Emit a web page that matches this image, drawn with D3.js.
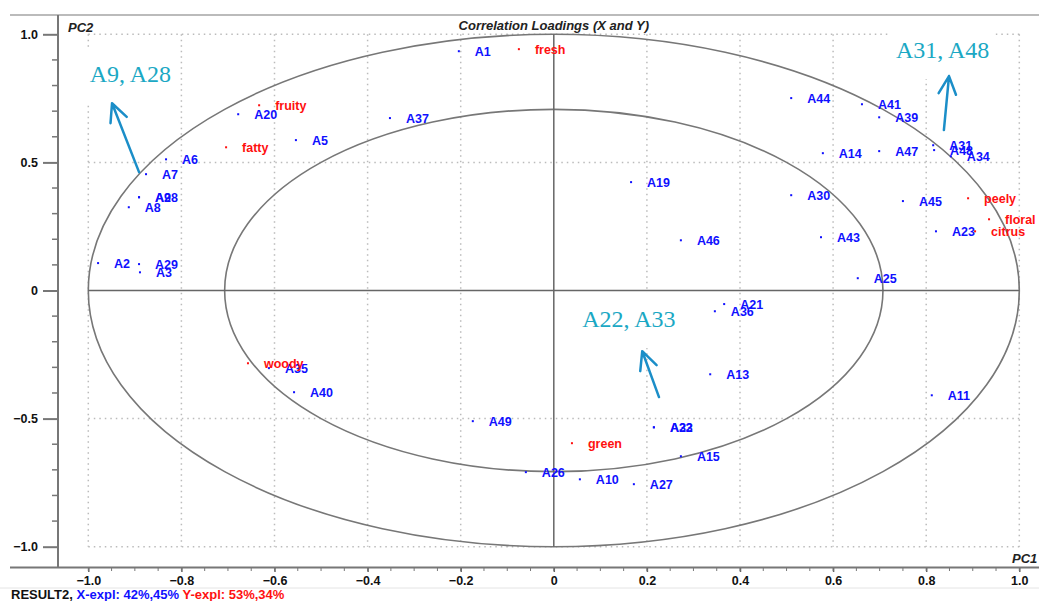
<!DOCTYPE html>
<html>
<head>
<meta charset="utf-8">
<script src="https://cdn.jsdelivr.net/npm/d3@7"></script>
<style>
  body { margin: 0; background: #fff; }
  svg { display: block; font-family: "Liberation Sans", Arial, sans-serif; }
</style>
</head>
<body>
<svg id="chart" width="1039" height="601"></svg>
<script>
// X loadings (blue) and Y loadings (red)
const xNames = ['A1', 'A20', 'A5', 'A6', 'A7', 'A9', 'A28', 'A8', 'A2', 'A29', 'A3', 'A37', 'A19',
  'A44', 'A41', 'A39', 'A14', 'A47', 'A31', 'A48', 'A34', 'A30', 'A45', 'A23', 'A46', 'A43',
  'A25', 'A21', 'A36', 'A13', 'A22', 'A33', 'A15', 'A11', 'A35', 'A40', 'A49', 'A26', 'A10', 'A27']
const xPC1 = [-0.204, -0.678, -0.554, -0.833, -0.876, -0.891, -0.891, -0.913, -0.979, -0.891, -0.889, -0.352, 0.166,
  0.510, 0.662, 0.699, 0.578, 0.699, 0.815, 0.817, 0.853, 0.510, 0.750, 0.821, 0.273, 0.574,
  0.653, 0.366, 0.346, 0.336, 0.215, 0.215, 0.273, 0.812, -0.612, -0.558, -0.174, -0.060, 0.056, 0.172]
const xPC2 = [0.934, 0.688, 0.587, 0.512, 0.454, 0.364, 0.364, 0.325, 0.107, 0.103, 0.071, 0.673, 0.423,
  0.751, 0.727, 0.676, 0.536, 0.544, 0.567, 0.548, 0.524, 0.372, 0.349, 0.231, 0.196, 0.208,
  0.048, -0.053, -0.081, -0.327, -0.534, -0.534, -0.647, -0.409, -0.303, -0.397, -0.510, -0.709, -0.737, -0.756]

const yNames = ['fresh', 'fruity', 'fatty', 'peely', 'floral', 'citrus', 'woody', 'green']
const yPC1 = [-0.075, -0.633, -0.704, 0.890, 0.935, 0.905, -0.657, 0.039]
const yPC2 = [0.942, 0.723, 0.559, 0.360, 0.278, 0.231, -0.284, -0.596]

const xTicks = [-1.0, -0.8, -0.6, -0.4, -0.2, 0, 0.2, 0.4, 0.6, 0.8, 1.0]
const yTicks = [1.0, 0.5, 0, -0.5, -1.0]

const notes = ['A9, A28', 'A31, A48', 'A22, A33']
const notePC1 = [-0.997, 0.735, 0.061]
const notePC2 = [0.813, 0.907, -0.143]
const arrowFrom = [[-0.891, 0.462], [0.838, 0.626], [0.226, -0.416]]
const arrowTo = [[-0.949, 0.731], [0.849, 0.837], [0.190, -0.237]]

const svg = d3.select('#chart')
const x = d3.scaleLinear().domain([-1, 1]).range([88.3, 1019.3])
const y = d3.scaleLinear().domain([-1, 1]).range([546.7, 34.3])
const fmt = d => d === 0 ? '0' : d3.format('.1f')(d)

// frame lines
svg.append('line').attr('x1', 10).attr('x2', 1039).attr('y1', 15).attr('y2', 15)
  .attr('stroke', '#bbb').attr('stroke-width', 2)
svg.append('line').attr('x1', 10).attr('x2', 1039).attr('y1', 567.5).attr('y2', 567.5)
  .attr('stroke', '#777').attr('stroke-width', 2)
svg.append('line').attr('x1', 58).attr('x2', 58).attr('y1', 15).attr('y2', 568)
  .attr('stroke', '#777').attr('stroke-width', 2)
svg.append('line').attr('x1', 0).attr('x2', 1039).attr('y1', 588).attr('y2', 588)
  .attr('stroke', '#e4e4e4').attr('stroke-width', 1)

// left axis
const yAxis = g => g
  .attr('transform', 'translate(58,0)')
  .call(d3.axisLeft(y).tickValues(yTicks).tickSize(15).tickPadding(5).tickFormat(fmt))
  .call(g => g.select('.domain').remove())
  .call(g => g.selectAll('.tick line').attr('stroke', '#777').attr('stroke-width', 2))
  .call(g => g.selectAll('.tick text').attr('font-size', 12.5).attr('font-weight', 'bold').attr('fill', '#111')
    .attr('font-family', '"Liberation Sans", Arial, sans-serif'))
svg.append('g').call(yAxis)
svg.append('g').selectAll('line')
  .data(d3.range(-10, 11).map(i => i / 10).filter(v => !yTicks.some(t => Math.abs(t - v) < 1e-6)))
  .join('line')
  .attr('x1', 52).attr('x2', 58)
  .attr('y1', d => y(d)).attr('y2', d => y(d))
  .attr('stroke', '#777').attr('stroke-width', 1.5)

// bottom axis
const xAxis = g => g
  .attr('transform', 'translate(0,568)')
  .call(d3.axisBottom(x).tickValues(xTicks).tickSize(4).tickPadding(4).tickFormat(fmt))
  .call(g => g.select('.domain').remove())
  .call(g => g.selectAll('.tick line').attr('stroke', '#666').attr('stroke-width', 1.5))
  .call(g => g.selectAll('.tick text').attr('font-size', 12.5).attr('font-weight', 'bold').attr('fill', '#111')
    .attr('font-family', '"Liberation Sans", Arial, sans-serif'))
svg.append('g').call(xAxis)
svg.append('g').selectAll('line')
  .data(d3.range(-20, 21).map(i => i / 20))
  .join('line')
  .attr('x1', d => x(d)).attr('x2', d => x(d))
  .attr('y1', 568).attr('y2', 571)
  .attr('stroke', '#777').attr('stroke-width', 1)

// dotted grid
const grid = svg.append('g').attr('stroke', '#bbb').attr('stroke-width', 1.5).attr('stroke-dasharray', '1.5,4')
grid.selectAll('.gv').data(xTicks.filter(d => d !== 0)).join('line')
  .attr('x1', d => x(d)).attr('x2', d => x(d)).attr('y1', y(1)).attr('y2', y(-1))
grid.selectAll('.gh').data(yTicks.filter(d => d !== 0)).join('line')
  .attr('x1', x(-1)).attr('x2', x(1)).attr('y1', d => y(d)).attr('y2', d => y(d))

// annotation backgrounds (cover grid like the pasted labels)
const noteLayer = svg.append('g')
const noteBg = noteLayer.append('g')

// ellipses: r = 1 and r = sqrt(0.5)
const cx = x(0), cy = y(0), rx = x(1) - x(0), ry = y(0) - y(1)
const rings = svg.append('g').attr('fill', 'none').attr('stroke', '#777').attr('stroke-width', 1.6)
rings.selectAll('ellipse').data([1, Math.sqrt(0.5)]).join('ellipse')
  .attr('cx', cx).attr('cy', cy).attr('rx', d => rx * d).attr('ry', d => ry * d)

// zero lines
svg.append('line').attr('x1', x(-1)).attr('x2', x(1)).attr('y1', cy).attr('y2', cy)
  .attr('stroke', '#666').attr('stroke-width', 1.5)
svg.append('line').attr('x1', cx).attr('x2', cx).attr('y1', y(1)).attr('y2', y(-1))
  .attr('stroke', '#666').attr('stroke-width', 1.5)

// titles
svg.append('text').attr('x', x(0)).attr('y', 25).attr('dy', '0.35em').attr('text-anchor', 'middle')
  .attr('font-size', 13).attr('font-weight', 'bold').attr('font-style', 'italic').attr('fill', '#222')
  .text('Correlation Loadings (X and Y)')
svg.append('text').attr('x', 68).attr('y', 27).attr('dy', '0.35em')
  .attr('font-size', 13).attr('font-weight', 'bold').attr('font-style', 'italic').attr('fill', '#222')
  .text('PC2')
svg.append('text').attr('x', 1012).attr('y', 558).attr('dy', '0.35em')
  .attr('font-size', 13).attr('font-weight', 'bold').attr('font-style', 'italic').attr('fill', '#222')
  .text('PC1')

// points + labels
const xData = xNames.map((n, i) => ({ name: n, pc1: xPC1[i], pc2: xPC2[i] }))
const yData = yNames.map((n, i) => ({ name: n, pc1: yPC1[i], pc2: yPC2[i] }))

function drawSet(data, color, size) {
  const g = svg.append('g')
  g.selectAll('rect').data(data).join('rect')
    .attr('x', d => x(d.pc1) - 1).attr('y', d => y(d.pc2) - 1)
    .attr('width', 2).attr('height', 2).attr('fill', color)
  g.selectAll('text').data(data).join('text')
    .attr('x', d => x(d.pc1) + 16).attr('y', d => y(d.pc2))
    .attr('dy', '0.38em')
    .attr('font-size', size).attr('font-weight', 'bold').attr('fill', color)
    .text(d => d.name)
}
drawSet(xData, '#1010ff', 12.5)
drawSet(yData, '#ff1010', 12.5)

// pasted annotations
const arrowColor = '#1b8ec8'
notes.forEach((t, i) => {
  const txt = noteLayer.append('text')
    .attr('x', x(notePC1[i])).attr('y', y(notePC2[i]))
    .attr('font-family', '"Liberation Serif", "Times New Roman", serif')
    .attr('font-size', 24).attr('fill', '#1ba8c4')
    .text(t)
  const b = txt.node().getBBox()
  noteBg.append('rect').attr('x', b.x - 6).attr('y', b.y - 14)
    .attr('width', b.width + 12).attr('height', b.height + 30).attr('fill', '#fff')

  const [fx, fy] = [x(arrowFrom[i][0]), y(arrowFrom[i][1])]
  const [tx, ty] = [x(arrowTo[i][0]), y(arrowTo[i][1])]
  const ang = Math.atan2(ty - fy, tx - fx)
  const head = 20, spread = 0.45
  const path = d3.path()
  path.moveTo(fx, fy); path.lineTo(tx, ty)
  path.moveTo(tx - head * Math.cos(ang - spread), ty - head * Math.sin(ang - spread))
  path.lineTo(tx, ty)
  path.lineTo(tx - head * Math.cos(ang + spread), ty - head * Math.sin(ang + spread))
  svg.append('path').attr('d', path.toString())
    .attr('fill', 'none').attr('stroke', arrowColor).attr('stroke-width', 2.5)
    .attr('stroke-linecap', 'round').attr('stroke-linejoin', 'round')
})
svg.node().appendChild(noteLayer.node())
// keep arrows above the backgrounds
svg.selectAll('path').raise()

// footer
const foot = svg.append('text').attr('x', 11).attr('y', 594).attr('dy', '0.35em')
  .attr('font-size', 13).attr('font-weight', 'bold')
foot.append('tspan').attr('fill', '#111').text('RESULT2, ')
foot.append('tspan').attr('fill', '#1010ff').text('X-expl: 42%,45%')
foot.append('tspan').attr('fill', '#ff1010').text('  Y-expl: 53%,34%')
</script>
</body>
</html>
